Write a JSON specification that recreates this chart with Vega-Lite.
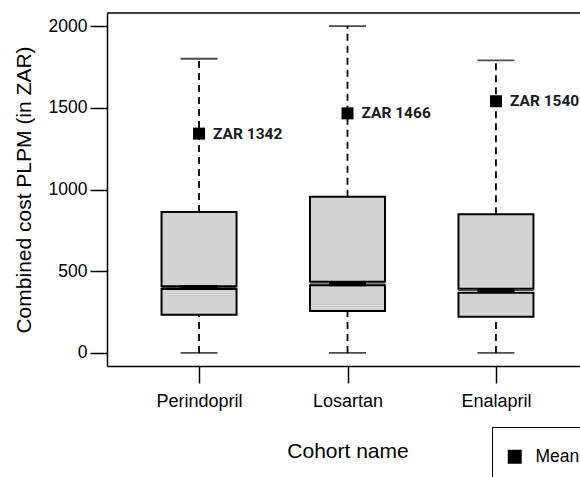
{
  "$schema": "https://vega.github.io/schema/vega-lite/v6.json",
  "autosize": {"type": "none"},
  "width": 473,
  "height": 353,
  "padding": {"left": 107, "top": 13, "right": 0, "bottom": 111},
  "background": "white",
  "config": {
    "view": {"stroke": null},
    "axis": {
      "grid": false,
      "domainColor": "black",
      "domainWidth": 1.5,
      "tickColor": "black",
      "tickWidth": 1.5,
      "tickSize": 17,
      "labelColor": "black",
      "labelFont": "Liberation Sans",
      "titleFont": "Liberation Sans",
      "titleFontWeight": "normal",
      "titleColor": "black",
      "titleFontSize": 21
    },
    "axisX": {"labelAngle": 0, "labelFontSize": 18, "labelPadding": 9, "titlePadding": 30, "titleX": 240.5},
    "axisY": {"labelFontSize": 17.5, "labelPadding": 3, "titlePadding": 14}
  },
  "data": {
    "values": [
      {"cohort": "Perindopril", "min": 0, "q1": 234, "notch_lo": 391, "median": 400, "notch_hi": 408, "q3": 862, "max": 1800, "mean": 1342, "label": "ZAR 1342", "stat": "Mean"},
      {"cohort": "Losartan", "min": 0, "q1": 257, "notch_lo": 414, "median": 423, "notch_hi": 436, "q3": 955, "max": 2000, "mean": 1466, "label": "ZAR 1466", "stat": "Mean"},
      {"cohort": "Enalapril", "min": 0, "q1": 222, "notch_lo": 368, "median": 382, "notch_hi": 393, "q3": 849, "max": 1790, "mean": 1540, "label": "ZAR 1540", "stat": "Mean"}
    ]
  },
  "layer": [
    {
      "mark": {"type": "rule", "stroke": "black", "strokeWidth": 1.8, "strokeDash": [7, 5]},
      "encoding": {
        "x": {"field": "cohort", "type": "nominal", "sort": ["Perindopril", "Losartan", "Enalapril"], "scale": {"type": "point", "padding": 0.62, "range": [0, 481]}, "title": "Cohort name"},
        "y": {"field": "q3", "type": "quantitative", "scale": {"domain": [-80, 2080], "nice": false, "zero": false}, "title": "Combined cost PLPM (in ZAR)",
          "axis": {"values": [0, 500, 1000, 1500, 2000], "format": "d", "labelFontSize": 17.5}},
        "y2": {"field": "max"}
      }
    },
    {
      "mark": {"type": "rule", "stroke": "black", "strokeWidth": 1.8, "strokeDash": [7, 5]},
      "encoding": {
        "x": {"field": "cohort", "type": "nominal", "sort": ["Perindopril", "Losartan", "Enalapril"], "title": "Cohort name"},
        "y": {"field": "min", "type": "quantitative", "title": "Combined cost PLPM (in ZAR)"},
        "y2": {"field": "q1"}
      }
    },
    {
      "mark": {"type": "tick", "color": "black", "size": 37, "thickness": 1.8, "orient": "horizontal"},
      "encoding": {
        "x": {"field": "cohort", "type": "nominal", "sort": ["Perindopril", "Losartan", "Enalapril"], "title": "Cohort name"},
        "y": {"field": "max", "type": "quantitative", "title": "Combined cost PLPM (in ZAR)"}
      }
    },
    {
      "mark": {"type": "tick", "color": "black", "size": 37, "thickness": 1.8, "orient": "horizontal"},
      "encoding": {
        "x": {"field": "cohort", "type": "nominal", "sort": ["Perindopril", "Losartan", "Enalapril"], "title": "Cohort name"},
        "y": {"field": "min", "type": "quantitative", "title": "Combined cost PLPM (in ZAR)"}
      }
    },
    {
      "mark": {"type": "bar", "size": 75, "fill": "#d3d3d3", "stroke": "black", "strokeWidth": 2},
      "encoding": {
        "x": {"field": "cohort", "type": "nominal", "sort": ["Perindopril", "Losartan", "Enalapril"], "title": "Cohort name"},
        "y": {"field": "q1", "type": "quantitative", "title": "Combined cost PLPM (in ZAR)"},
        "y2": {"field": "notch_lo"}
      }
    },
    {
      "mark": {"type": "bar", "size": 75, "fill": "#d3d3d3", "stroke": "black", "strokeWidth": 2},
      "encoding": {
        "x": {"field": "cohort", "type": "nominal", "sort": ["Perindopril", "Losartan", "Enalapril"], "title": "Cohort name"},
        "y": {"field": "notch_hi", "type": "quantitative", "title": "Combined cost PLPM (in ZAR)"},
        "y2": {"field": "q3"}
      }
    },
    {
      "mark": {"type": "tick", "color": "black", "size": 75, "thickness": 1, "orient": "horizontal"},
      "encoding": {
        "x": {"field": "cohort", "type": "nominal", "sort": ["Perindopril", "Losartan", "Enalapril"], "title": "Cohort name"},
        "y": {"field": "median", "type": "quantitative", "title": "Combined cost PLPM (in ZAR)"}
      }
    },
    {
      "mark": {"type": "tick", "color": "black", "size": 37, "thickness": 5, "orient": "horizontal", "opacity": 1},
      "encoding": {
        "x": {"field": "cohort", "type": "nominal", "sort": ["Perindopril", "Losartan", "Enalapril"], "title": "Cohort name"},
        "y": {"field": "median", "type": "quantitative", "title": "Combined cost PLPM (in ZAR)"}
      }
    },
    {
      "mark": {"type": "point", "shape": "square", "filled": true, "size": 144, "opacity": 1},
      "encoding": {
        "x": {"field": "cohort", "type": "nominal", "sort": ["Perindopril", "Losartan", "Enalapril"], "title": "Cohort name"},
        "y": {"field": "mean", "type": "quantitative", "title": "Combined cost PLPM (in ZAR)"},
        "color": {
          "field": "stat", "type": "nominal",
          "scale": {"range": ["black"]},
          "legend": {
            "orient": "none", "legendX": 385, "legendY": 414,
            "title": "MMMMMMMMMMMMMMMMMMMMMMMM",
            "titleFontSize": 5, "titlePadding": 2, "titleLimit": 600, "titleColor": "white",
            "padding": 14,
            "strokeColor": "black", "fillColor": "white",
            "symbolType": "square", "symbolSize": 196, "symbolStrokeWidth": 0, "symbolOpacity": 1,
            "labelFont": "Liberation Sans", "labelFontSize": 17.5, "labelColor": "black", "labelOffset": 12
          }
        }
      }
    },
    {
      "mark": {"type": "text", "align": "left", "baseline": "middle", "dx": 14, "font": "Roboto", "fontWeight": "bold", "fontSize": 15.5, "color": "#1a1a1a"},
      "encoding": {
        "x": {"field": "cohort", "type": "nominal", "sort": ["Perindopril", "Losartan", "Enalapril"], "title": "Cohort name"},
        "y": {"field": "mean", "type": "quantitative", "title": "Combined cost PLPM (in ZAR)"},
        "text": {"field": "label"}
      }
    },
    {
      "data": {"values": [{"top": 2080}]},
      "mark": {"type": "rule", "color": "black", "strokeWidth": 1.5},
      "encoding": {
        "y": {"field": "top", "type": "quantitative", "title": "Combined cost PLPM (in ZAR)"}
      }
    }
  ]
}
